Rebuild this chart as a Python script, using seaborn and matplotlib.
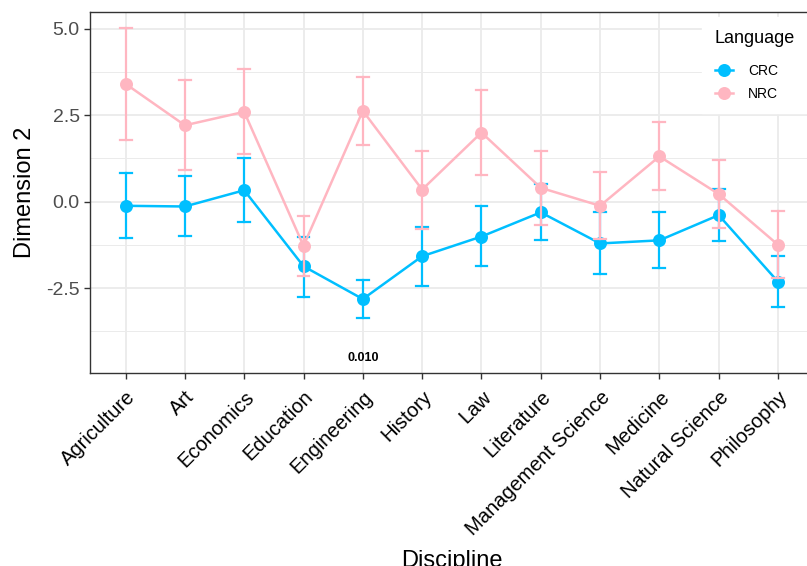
import numpy as np
import pandas as pd
import matplotlib
matplotlib.use("Agg")
import matplotlib.pyplot as plt
from matplotlib.ticker import MultipleLocator
import seaborn as sns

disciplines = ['Agriculture', 'Art', 'Economics', 'Education', 'Engineering', 'History',
               'Law', 'Literature', 'Management Science', 'Medicine', 'Natural Science', 'Philosophy']

# CRC (blue) : mean, lower and upper end of error bar
crc_mean = [-0.12, -0.14, 0.33, -1.87, -2.82, -1.58, -1.01, -0.31, -1.21, -1.12, -0.39, -2.32]
crc_low = [-1.04, -0.99, -0.60, -2.76, -3.38, -2.45, -1.87, -1.12, -2.08, -1.93, -1.13, -3.05]
crc_high = [0.82, 0.73, 1.25, -1.02, -2.28, -0.74, -0.14, 0.51, -0.31, -0.31, 0.37, -1.57]

# NRC (pink)
nrc_mean = [3.41, 2.21, 2.60, -1.28, 2.63, 0.35, 2.00, 0.40, -0.12, 1.31, 0.22, -1.25]
nrc_low = [1.79, 0.92, 1.38, -2.14, 1.64, -0.79, 0.78, -0.68, -1.08, 0.33, -0.75, -2.20]
nrc_high = [5.03, 3.52, 3.83, -0.41, 3.62, 1.48, 3.23, 1.48, 0.87, 2.31, 1.20, -0.26]

note_text = "0.010"
note_discipline = "Engineering"
note_y = -4.52

# long table: low / mean / high per point, median -> mean, 100% interval -> error bar
rows = []
for lang, m, lo, hi in [('CRC', crc_mean, crc_low, crc_high), ('NRC', nrc_mean, nrc_low, nrc_high)]:
    for d, a, b, c in zip(disciplines, lo, m, hi):
        for v in (a, b, c):
            rows.append((d, lang, v))
df = pd.DataFrame(rows, columns=['Discipline', 'Language', 'value'])

plt.rcParams['font.family'] = ['Liberation Sans', 'DejaVu Sans']

fig = plt.figure(figsize=(8.07, 5.66), dpi=100)
ax = fig.add_axes([0.1115, 0.341, 0.8967, 0.6378])

pal = {'CRC': '#00BFFF', 'NRC': '#FFB6C1'}
sns.pointplot(data=df, x='Discipline', y='value', hue='Language', order=disciplines,
              hue_order=['CRC', 'NRC'], palette=pal, estimator='median',
              errorbar=('pi', 100), capsize=0.2, dodge=False, markers='o',
              markersize=8, linewidth=1.8, err_kws={'linewidth': 1.6}, ax=ax)

ax.set_xlim(-0.6, 11.6)
ax.set_ylim(-4.96, 5.49)
ax.yaxis.set_major_locator(MultipleLocator(2.5))
ax.yaxis.set_minor_locator(MultipleLocator(1.25))
ax.set_yticks([-2.5, 0, 2.5, 5.0])
ax.set_yticklabels(['-2.5', '0.0', '2.5', '5.0'])

ax.grid(True, which='major', color='#EBEBEB', linewidth=1.3)
ax.yaxis.grid(True, which='minor', color='#EBEBEB', linewidth=0.7)
ax.set_axisbelow(True)
for s in ax.spines.values():
    s.set_color('#333333')
    s.set_linewidth(1.0)
ax.tick_params(axis='both', which='major', length=4.3, width=1.0, color='#333333')
ax.tick_params(axis='y', which='minor', length=0)
ax.tick_params(axis='y', labelsize=14, labelcolor='#4D4D4D', pad=3)
ax.tick_params(axis='x', labelsize=14.5, labelcolor='black', pad=6)
plt.setp(ax.get_xticklabels(), rotation=45, ha='right', va='top', rotation_mode='anchor')

ax.set_xlabel('Discipline', fontsize=17, labelpad=8)
ax.set_ylabel('Dimension 2', fontsize=17, labelpad=7)

ax.text(disciplines.index(note_discipline), note_y, note_text, ha='center', va='center',
        fontsize=9, fontweight='bold')

handles, labels = ax.get_legend_handles_labels()
leg = ax.legend(handles, labels, title='Language', loc='upper left', bbox_to_anchor=(0.846, 0.985),
                borderaxespad=0, frameon=True, fancybox=False, edgecolor='white',
                facecolor='white', framealpha=1, fontsize=10, title_fontsize=13,
                alignment='left', borderpad=0.9, labelspacing=0.65, handlelength=1.3,
                handletextpad=1.1)
leg._legend_box.sep = 12  # more room under the title

fig.savefig('out.png', dpi=100)
